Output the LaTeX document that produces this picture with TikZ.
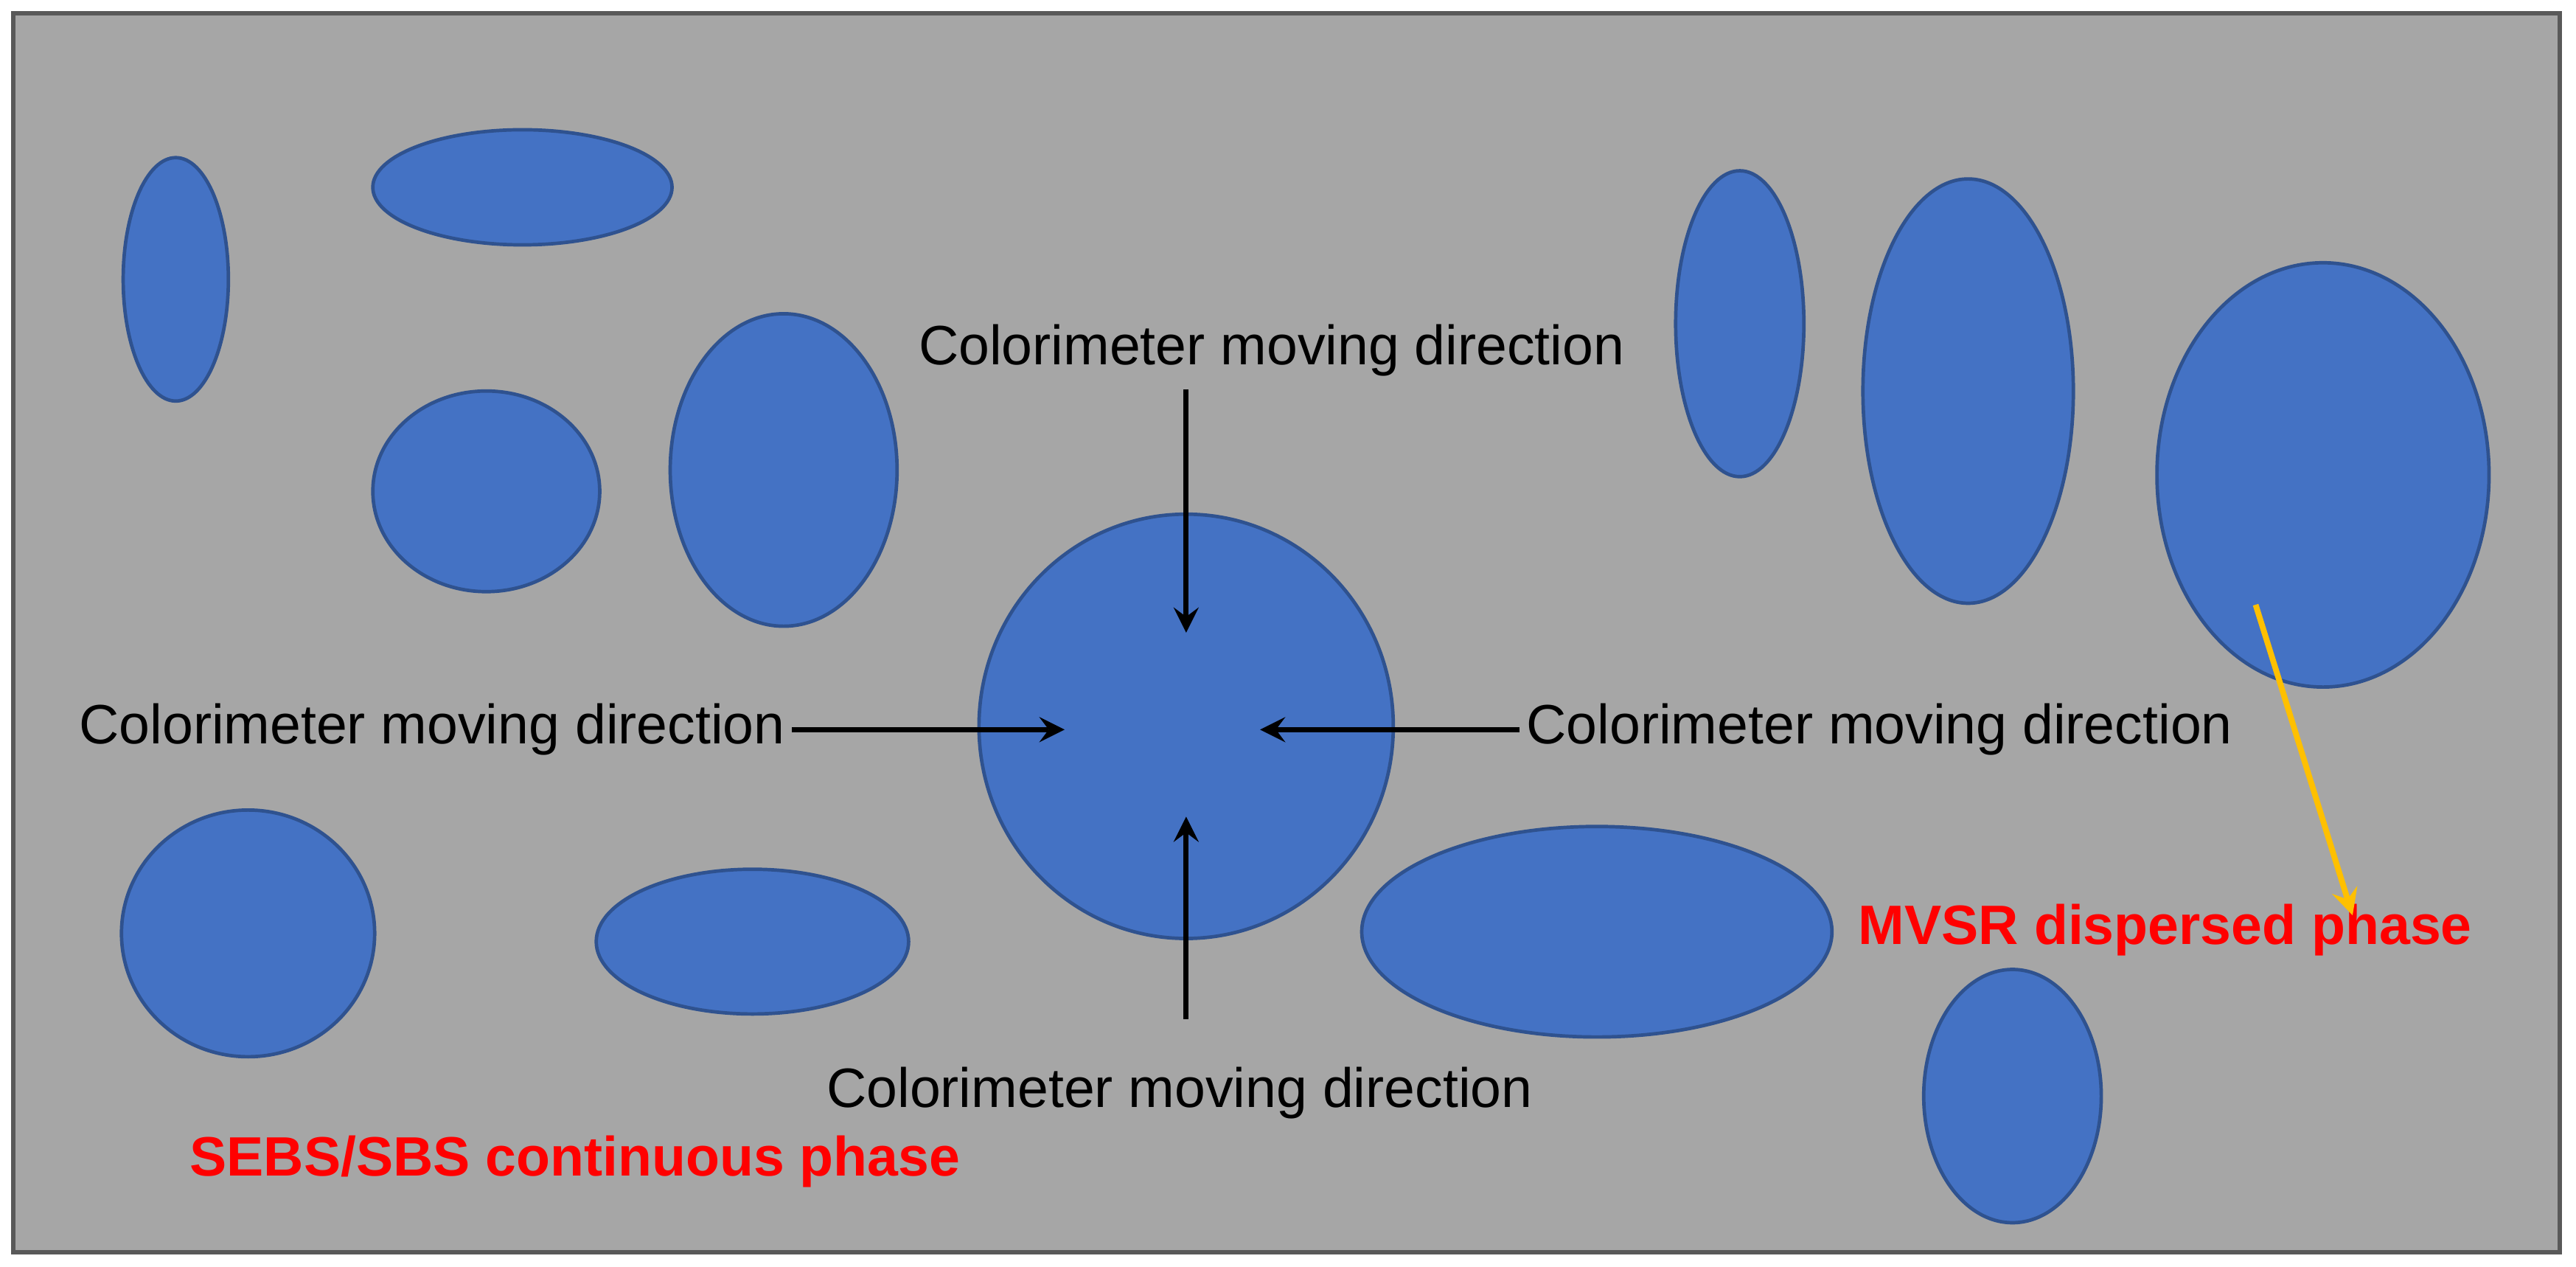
\documentclass[tikz,border=0pt]{standalone}
\usepackage{fontspec}
\setmainfont{Liberation Sans}
\usetikzlibrary{shapes.geometric}
\definecolor{bgGrey}{HTML}{A6A6A6}
\definecolor{dropBlue}{HTML}{4472C4}
\definecolor{dropEdge}{HTML}{2F528F}
\definecolor{tagYellow}{HTML}{FFC000}
\tikzstyle{drop}=[draw=dropEdge,fill=dropBlue,ellipse,inner sep=0pt,line width=0.6pt]
\tikzstyle{dirLabel}=[font=\fontsize{9.6}{11}\selectfont,inner sep=1pt]
\tikzstyle{phaseLabel}=[font=\fontsize{9.6}{11}\selectfont\bfseries,text=red,inner sep=1pt]
\tikzstyle{moveArrow}=[-stealth, line width=0.9pt]
\newcommand{\dropAt}[5]{\node[drop,minimum width=#4*0.02cm,minimum height=#5*0.02cm] (#1) at (#2,#3) {};}

\begin{document}
\begin{tikzpicture}[x=0.01cm,y=-0.01cm]
		\useasboundingbox (0,0) rectangle (1568,771);
		\draw[fill=bgGrey,draw=gray!70!black,line width=0.8pt] (8,8) rectangle (1558,762);
		
		% droplets
		\dropAt{d1}{107}{170}{32}{74}
		\dropAt{d2}{318}{114}{91}{35}
		\dropAt{d3}{296}{299}{69}{61}
		\dropAt{d4}{477}{286}{69}{95}
		\dropAt{center}{722}{442}{126}{129}
		\dropAt{d6}{1059}{197}{39}{93}
		\dropAt{d7}{1198}{238}{64}{129}
		\dropAt{d8}{1414}{289}{101}{129}
		\dropAt{d9}{151}{568}{77}{75}
		\dropAt{d10}{458}{573}{95}{44}
		\dropAt{d11}{972}{567}{143}{64}
		\dropAt{d12}{1225}{667}{54}{77}
		
		% direction labels
		\node[dirLabel] (lblT) at (774,213) {Colorimeter moving direction};
		\node[dirLabel] (lblL) at (263,444) {Colorimeter moving direction};
		\node[dirLabel] (lblR) at (1144,444) {Colorimeter moving direction};
		\node[dirLabel] (lblB) at (718,665) {Colorimeter moving direction};
		\coordinate (tStart) at (722,237);
		\coordinate (tEnd) at (722,385);
		\coordinate (bStart) at (722,620);
		\coordinate (bEnd) at (722,497);
		\coordinate (lEnd) at (648,444);
		\coordinate (rEnd) at (767,444);
		\draw[moveArrow] (tStart) -- (tEnd);
		\draw[moveArrow] (bStart) -- (bEnd);
		\draw[moveArrow] (lblL.east) -- (lEnd);
		\draw[moveArrow] (lblR.west) -- (rEnd);
		
		% phase labels
		\node[phaseLabel] (mvsr) at (1318,566) {MVSR dispersed phase};
		\node[phaseLabel] (sebs) at (350,707) {SEBS/SBS continuous phase};
		\coordinate (tagStart) at (1373,368);
		\coordinate (tagEnd) at (1432,557);
		\draw[-stealth,tagYellow,line width=1pt] (tagStart) -- (tagEnd);
\end{tikzpicture}
\end{document}
